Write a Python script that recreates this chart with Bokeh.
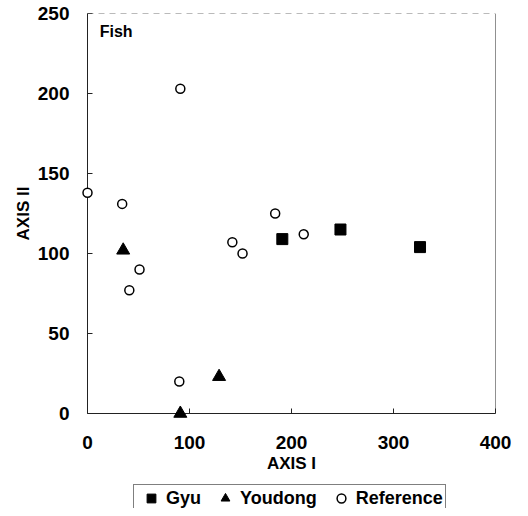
from bokeh.plotting import figure
from bokeh.models import (Range1d, SingleIntervalTicker, Legend, LegendItem,
                          Label, Span)
from bokeh.layouts import column
from bokeh.embed import file_html
from bokeh.resources import INLINE

# ---- data ----
gyu_x = [191, 248, 326]
gyu_y = [109, 115, 104]
youdong_x = [35, 91, 129]
youdong_y = [102, 0, 23]
ref_x = [0, 34, 41, 51, 90, 91, 142, 152, 184, 212]
ref_y = [138, 131, 77, 90, 20, 203, 107, 100, 125, 112]

series_names = ["Gyu", "Youdong", "Reference"]
x_ticks_interval = 100
y_ticks_interval = 50
panel_label = "Fish"

FONT = "Liberation Sans"

p = figure(frame_width=408, frame_height=400, output_backend="svg",
           toolbar_location=None,
           x_range=Range1d(0, 400), y_range=Range1d(0, 250),
           min_border_left=87, min_border_right=25, min_border_top=13,
           min_border_bottom=71)
p.outline_line_color = None
p.xgrid.visible = False
p.ygrid.visible = False
p.background_fill_color = "white"
p.border_fill_color = "white"

for ax, itv in ((p.xaxis[0], x_ticks_interval), (p.yaxis[0], y_ticks_interval)):
    ax.ticker = SingleIntervalTicker(interval=itv, num_minor_ticks=0)
    ax.major_tick_in = 5
    ax.major_tick_out = 0
    ax.minor_tick_line_color = None
    ax.axis_line_color = "#222222"
    ax.major_tick_line_color = "#222222"
    ax.major_label_text_font = FONT
    ax.major_label_text_font_style = "bold"
    ax.major_label_text_font_size = "19px"
    ax.major_label_text_color = "black"
    ax.axis_label_text_font = FONT
    ax.axis_label_text_font_style = "bold"
    ax.axis_label_text_font_size = "17px"
    ax.axis_label_text_color = "black"

p.xaxis.axis_label = "AXIS I"
p.yaxis.axis_label = "AXIS II"
p.xaxis.major_label_standoff = 22
p.xaxis.axis_label_standoff = 2
p.yaxis.major_label_standoff = 18
p.yaxis.axis_label_standoff = 2

p.add_layout(Span(location=400, dimension="height", line_color="#222222", line_width=1))
p.add_layout(Span(location=250, dimension="width", line_color="#777777",
                  line_width=1, line_dash="6 5"))

p.scatter(gyu_x, gyu_y, marker="square", size=11,
          fill_color="black", line_color="black", level="overlay")
p.scatter(youdong_x, youdong_y, marker="triangle", size=13,
          fill_color="black", line_color="black", level="overlay")
p.scatter(ref_x, ref_y, marker="circle", size=9,
          fill_color="white", line_color="black", line_width=1.5,
          level="overlay")

p.add_layout(Label(x=12, y=244, text=panel_label, text_baseline="top",
                   text_font=FONT, text_font_style="bold",
                   text_font_size="16px", text_color="black"))

# ---- legend strip below the plot (frame is aligned with the plot's frame) ----
lg = figure(width=520, height=24, output_backend="svg", toolbar_location=None,
            x_axis_location=None, y_axis_location=None,
            min_border_left=87, min_border_right=25, min_border_top=0,
            min_border_bottom=0, x_range=Range1d(0, 1), y_range=Range1d(0, 1))
lg.outline_line_color = None
lg.xgrid.visible = False
lg.ygrid.visible = False
lg.border_fill_color = "white"

# legend-only renderers (hidden; they only provide the legend glyph styles)
l_gyu = lg.scatter(gyu_x[:1], gyu_y[:1], marker="square",
                   fill_color="black", line_color="black", visible=False)
l_you = lg.scatter(youdong_x[:1], youdong_y[:1], marker="triangle",
                   fill_color="black", line_color="black", visible=False)
l_ref = lg.scatter(ref_x[:1], ref_y[:1], marker="circle", fill_color="white",
                   line_color="black", line_width=1.5, visible=False)

legend = Legend(items=[LegendItem(label=series_names[0], renderers=[l_gyu]),
                       LegendItem(label=series_names[1], renderers=[l_you]),
                       LegendItem(label=series_names[2], renderers=[l_ref])],
                orientation="horizontal", location=(46, -4),
                border_line_color="black", border_line_width=1,
                background_fill_color="white", background_fill_alpha=1,
                inactive_fill_alpha=0,
                label_text_font=FONT, label_text_font_style="bold",
                label_text_font_size="18px", label_text_color="black",
                glyph_width=30, glyph_height=22, label_height=22,
                label_standoff=0, spacing=9, padding=2, margin=0)
lg.add_layout(legend, "center")

layout = column(p, lg, spacing=0)
open("out.html", "w").write(file_html(layout, INLINE))
